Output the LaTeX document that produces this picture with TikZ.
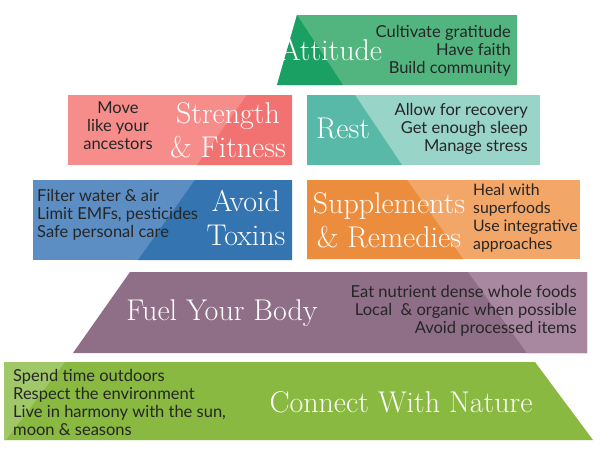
\documentclass[tikz,border=0pt]{standalone}
\usepackage{fontspec}
\newfontfamily\notefont{Lato}
\usepackage{tikz}
\definecolor{attdark}{RGB}{26,160,98}
\definecolor{attlight}{RGB}{82,181,128}
\definecolor{strlight}{RGB}{247,141,139}
\definecolor{strdark}{RGB}{241,114,112}
\definecolor{restdark}{RGB}{88,185,168}
\definecolor{restlight}{RGB}{152,212,200}
\definecolor{toxlight}{RGB}{92,142,196}
\definecolor{toxdark}{RGB}{52,116,176}
\definecolor{supdark}{RGB}{236,141,62}
\definecolor{suplight}{RGB}{242,166,104}
\definecolor{fueldark}{RGB}{143,110,135}
\definecolor{fuellight}{RGB}{168,136,160}
\definecolor{natgreen}{RGB}{137,185,64}
\definecolor{natlight}{RGB}{160,200,105}

\begin{document}
\begin{tikzpicture}[x=1pt, y=-1pt,
  title/.style={text=white, font=\fontsize{30}{34}\selectfont, align=center, inner sep=0pt},
  note/.style={text=black!85, font=\notefont\fontsize{16.5}{18}\selectfont, inner sep=0pt}]
\useasboundingbox (0,0) rectangle (600,451);
\fill[attlight] (297,15) -- (517,15) -- (517,85) -- (277,85) -- cycle;
\fill[attdark] (297,15) -- (343,85) -- (277,85) -- cycle;
\fill[strlight] (68,95) rectangle (292,165);
\fill[strdark] (247,95) -- (292,95) -- (292,165) -- (197,165) -- cycle;
\fill[restlight] (307,95) rectangle (540,165);
\fill[restdark] (307,95) -- (355,95) -- (402,165) -- (307,165) -- cycle;
\fill[toxlight] (33,180) rectangle (292,260);
\fill[toxdark] (195,180) -- (292,180) -- (292,260) -- (138,260) -- cycle;
\fill[suplight] (307,180) rectangle (580,259);
\fill[supdark] (307,180) -- (407,180) -- (463,259) -- (307,259) -- cycle;
\fill[fueldark] (130,272) -- (587,272) -- (587,353) -- (73,353) -- cycle;
\fill[fuellight] (468,272) -- (587,272) -- (587,353) -- (527,353) -- cycle;
\fill[natgreen] (4,362) -- (535,362) -- (593,440) -- (4,440) -- cycle;
\fill[natlight] (4,362) -- (65,362) -- (6,440) -- (4,440) -- cycle;

\node[title] (att) at (331,50) {Attitude};
\node[note, anchor=east, align=right] (attnote) at (511,51) {Cultivate gratitude\\Have faith\\Build community};
\node[note, align=center] (strnote) at (118,126) {Move\\like your\\ancestors};
\node[title] (str) at (228,130) {Strength\\\& Fitness};
\node[title] (rest) at (343,128) {Rest};
\node[note, anchor=east, align=right] (restnote) at (528,129) {Allow for recovery\\Get enough sleep\\Manage stress};
\node[note, anchor=west, align=left] (toxnote) at (37,215) {Filter water \& air\\Limit EMFs, pesticides\\Safe personal care};
\node[title] (tox) at (246,218) {Avoid\\Toxins};
\node[title] (sup) at (389,220) {Supplements\\\& Remedies};
\node[note, anchor=west, align=left, font=\notefont\fontsize{15.8}{18}\selectfont] (supnote) at (473,218) {Heal with\\superfoods\\Use integrative\\approaches};
\node[title] (fuel) at (222,313) {Fuel Your Body};
\node[note, anchor=east, align=right] (fuelnote) at (577,311) {Eat nutrient dense whole foods\\Local~ \& organic when possible\\Avoid processed items};
\node[note, anchor=west, align=left] (natnote) at (13,402) {Spend time outdoors\\Respect the environment\\Live in harmony with the sun,\\moon \& seasons};
\node[title] (nat) at (401,402) {Connect With Nature};
\end{tikzpicture}
\end{document}
